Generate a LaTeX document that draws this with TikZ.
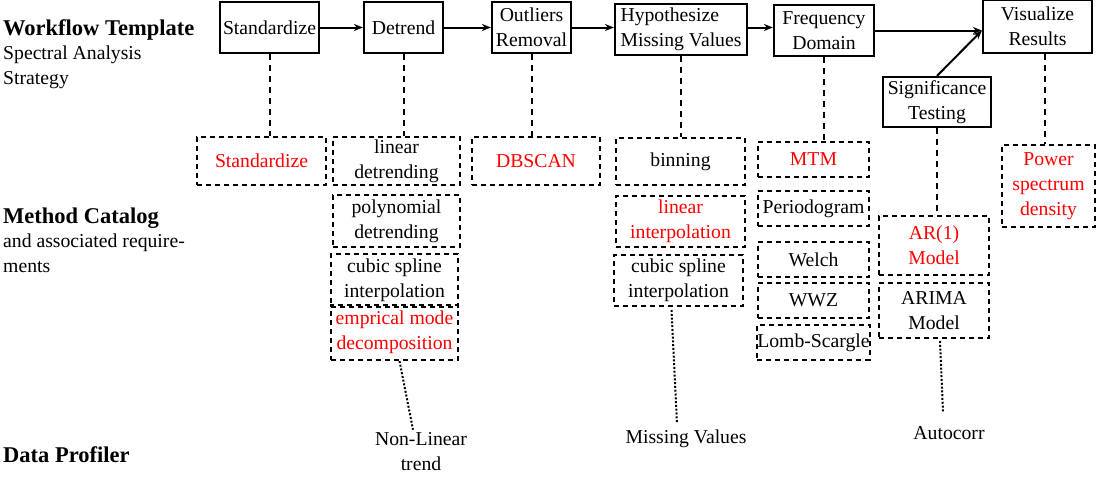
\documentclass[tikz,border=0pt]{standalone}
\usepackage{fontspec}
\setmainfont{Liberation Serif}
\usetikzlibrary{arrows.meta,calc}
\definecolor{hl}{HTML}{FF0000}
\tikzset{
  txt/.style   ={font=\fontsize{19.7}{25}\selectfont, align=center, inner sep=0pt},
  wbox/.style  ={txt, draw, line width=2.2pt, minimum height=51pt},
  % catalog entries: dashed frame
  mbox/.style  ={txt, draw, line width=2pt, dash pattern=on 5pt off 4pt},
  redm/.style  ={mbox, text=hl},
  flow/.style  ={-{Stealth[length=9pt,width=7pt]}, line width=2pt},
  link/.style  ={line width=2pt, dash pattern=on 6pt off 5pt},
  prof/.style  ={line width=2pt, dash pattern=on 2pt off 1.8pt},
  head/.style  ={font=\fontsize{22.5}{28}\selectfont\bfseries, inner sep=0pt, anchor=base west},
  sub/.style   ={txt, align=left, anchor=base west},
}
\begin{document}
\begin{tikzpicture}[x=1pt,y=-1pt]
  \useasboundingbox (0,0) rectangle (1097,480);
  % row labels
  \node[head] (wft) at (3,35) {Workflow Template};
  \node[sub]  (wfs) at (3,84) {Spectral Analysis\\Strategy};
  \node[head] (mct) at (3,223) {Method Catalog};
  \node[sub]  (mcs) at (3,272) {and associated require-\\ments};
  \node[head] (dpr) at (3,462) {Data Profiler};
  % workflow steps
  \node[wbox, minimum width=99pt]  (std) at (269.5,27.5) {Standardize};
  \node[wbox, minimum width=79pt]  (det) at (403.5,27.5) {Detrend};
  \node[wbox, minimum width=79pt]  (out) at (531.5,27.5) {Outliers\\Removal};
  \node[wbox, minimum width=132pt, align=left] (hyp) at (681,29.5) {Hypothesize\\Missing Values};
  \node[wbox, minimum width=100pt] (frq) at (824,30.5) {Frequency\\Domain};
  \node[wbox, minimum width=109pt, minimum height=53pt] (vis) at (1037.5,26.5) {Visualize\\Results};
  \node[wbox, minimum width=108pt, minimum height=50pt] (sig) at (937,102) {Significance\\Testing};
  \coordinate (vin) at (frq -| vis.west);
  \draw[flow] (std) -- (det);
  \draw[flow] (det) -- (out);
  \draw[flow] (out) -- (out -| hyp.west);
  \draw[flow] (hyp.east |- det) -- (det -| frq.west);
  \draw[flow] (frq) -- (vin);
  \draw[flow] (sig.north) -- (vin);
  % method catalog
  \node[redm, minimum width=129pt, minimum height=48pt] (cstd) at (261.5,161) {Standardize};
  \node[mbox, minimum width=127pt, minimum height=48pt] (clin) at (396.5,161) {linear\\detrending};
  \node[redm, minimum width=128pt, minimum height=48pt] (cdbs) at (536,161) {DBSCAN};
  \node[mbox, minimum width=127pt, minimum height=52pt] (cpol) at (396.5,221) {polynomial\\detrending};
  \node[mbox, minimum width=127pt, minimum height=53pt] (ccs1) at (394.5,280.5) {cubic spline\\interpolation};
  \node[redm, minimum width=127pt, minimum height=55pt] (cemd) at (394.5,332.5) {emprical mode\\decomposition};
  \node[mbox, minimum width=129pt, minimum height=47pt] (cbin) at (680.5,161.5) {binning};
  \node[redm, minimum width=129pt, minimum height=51pt] (clip) at (680.5,221.5) {linear\\interpolation};
  \node[mbox, minimum width=129pt, minimum height=51pt] (ccs2) at (678.5,280.5) {cubic spline\\interpolation};
  \node[redm, minimum width=111pt, minimum height=35pt] (cmtm) at (813.5,159.5) {MTM};
  \node[mbox, minimum width=111pt, minimum height=35pt] (cper) at (813.5,208.5) {Periodogram};
  \node[mbox, minimum width=111pt, minimum height=35pt] (cwel) at (813.5,259.5) {Welch};
  \node[mbox, minimum width=111pt, minimum height=35pt] (cwwz) at (813.5,300.5) {WWZ};
  \node[mbox, minimum width=111pt, minimum height=35pt] (clsg) at (813.5,342.5) {Lomb-Scargle};
  \node[redm, minimum width=110pt, minimum height=59pt] (car)  at (934,245.5) {AR(1)\\Model};
  \node[mbox, minimum width=110pt, minimum height=55pt] (cari) at (934,310.5) {ARIMA\\Model};
  \node[redm, minimum width=93pt, minimum height=82pt]  (cpsd) at (1048.5,186) {Power\\spectrum\\density};
  \draw[link] (std.south) -- (std.south |- cstd.north);
  \draw[link] (det.south) -- (det.south |- clin.north);
  \draw[link] (out.south) -- (out.south |- cdbs.north);
  \draw[link] (hyp.south) -- (hyp.south |- cbin.north);
  \draw[link] (frq.south) -- (frq.south |- cmtm.north);
  \draw[link] (sig.south) -- (sig.south |- car.north);
  \draw[link] ([xshift=7pt]vis.south) -- ([xshift=7pt]vis.south |- cpsd.north);
  % data profiler
  \node[txt] (nlt) at (421,452) {Non-Linear\\trend};
  \node[txt] (mva) at (686,439) {Missing Values};
  \node[txt] (acr) at (949,433) {Autocorr};
  \draw[prof] ([xshift=5pt]cemd.south) -- ([xshift=-8pt,yshift=3pt]nlt.north);
  \draw[prof] ([xshift=-7pt,yshift=-3pt]ccs2.south) -- ([xshift=-9pt,yshift=6pt]mva.north);
  \draw[prof] ([xshift=6pt,yshift=-2pt]cari.south) -- ([xshift=-6pt,yshift=14pt]acr.north);
\end{tikzpicture}
\end{document}
